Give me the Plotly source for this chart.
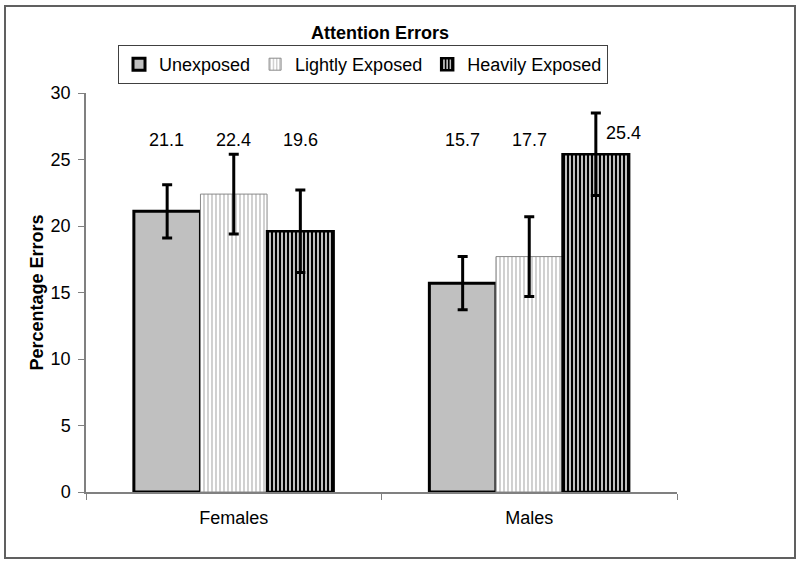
import plotly.graph_objects as go

categories = ["Females", "Males"]
series_names = ["Unexposed", "Lightly Exposed", "Heavily Exposed"]
values = {
    "Unexposed": [21.1, 15.7],
    "Lightly Exposed": [22.4, 17.7],
    "Heavily Exposed": [19.6, 25.4],
}
errors = {
    "Unexposed": [2.0, 2.0],
    "Lightly Exposed": [3.0, 3.0],
    "Heavily Exposed": [3.1, 3.1],
}
y_ticks = [0, 5, 10, 15, 20, 25, 30]

styles = {
    "Unexposed": dict(color="#c0c0c0", line=dict(color="black", width=3)),
    "Lightly Exposed": dict(color="white", line=dict(color="#8a8a8a", width=1),
                            pattern=dict(shape="|", fgcolor="#bdbdbd", bgcolor="white",
                                         size=4, solidity=0.35, fillmode="replace")),
    "Heavily Exposed": dict(color="#d0d0d0", line=dict(color="black", width=2.5),
                            pattern=dict(shape="|", fgcolor="black", bgcolor="#d4d4d4",
                                         size=4, solidity=0.55, fillmode="replace")),
}

FONT = "Liberation Sans, Arial, sans-serif"
FS = 18
fig = go.Figure()
for name in series_names:
    fig.add_trace(go.Bar(
        name=name, x=categories, y=values[name],
        marker=styles[name],
        error_y=dict(type="data", array=errors[name], color="black", thickness=3, width=5),
    ))

# value labels
offsets = {"Unexposed": -1, "Lightly Exposed": 0, "Heavily Exposed": 1}
annotations = []
for name in series_names:
    for i, cat in enumerate(categories):
        v = values[name][i]
        ylab = 26.5
        xshift = 0
        if v + errors[name][i] > ylab - 0.8:
            ylab = 27.0
            xshift = 27
        annotations.append(dict(
            x=cat, y=ylab, xref="x", yref="y", text=f"{v:.1f}", showarrow=False,
            xshift=offsets[name] * 67 + xshift, font=dict(family=FONT, size=FS, color="black"),
        ))

fig.update_layout(
    width=800, height=564,
    margin=dict(l=86, r=123, t=93, b=72),
    paper_bgcolor="white", plot_bgcolor="white",
    barmode="group", bargap=0.324, bargroupgap=0,
    font=dict(family=FONT, size=FS, color="black"),
    title=dict(text="<b>Attention Errors</b>", x=380 / 800, xanchor="center",
               y=1 - 33 / 564, yanchor="middle", font=dict(family=FONT, size=18)),
    showlegend=True,
    legend=dict(orientation="h", x=(118 - 86) / 591, xanchor="left",
                y=(492 - 45) / 399, yanchor="top",
                bordercolor="#404040", borderwidth=1, bgcolor="white",
                font=dict(family=FONT, size=FS), itemwidth=30, tracegroupgap=0),
    annotations=annotations,
    shapes=[dict(type="rect", xref="paper", yref="paper",
                 x0=(5 - 86) / 591, x1=(795 - 86) / 591,
                 y0=(492 - 558) / 399, y1=(492 - 6) / 399,
                 line=dict(color="#606060", width=2), fillcolor="rgba(0,0,0,0)", layer="below")],
)
fig.update_xaxes(showline=True, linecolor="#808080", linewidth=1.5, ticks="outside",
                 tickson="boundaries", ticklen=6, tickcolor="#808080",
                 tickfont=dict(family=FONT, size=FS), showgrid=False, ticklabelstandoff=9)
fig.update_yaxes(range=[0, 30], tickvals=y_ticks, showline=True, linecolor="#808080",
                 linewidth=1.5, ticks="outside", ticklen=6, tickcolor="#808080",
                 tickfont=dict(family=FONT, size=FS), showgrid=False, zeroline=False,
                 ticklabelstandoff=4,
                 title=dict(text="<b>Percentage Errors</b>", font=dict(family=FONT, size=18),
                            standoff=2))
fig.write_html("out.html", config={"displayModeBar": False},
               post_script="document.body.style.margin='0px';")
